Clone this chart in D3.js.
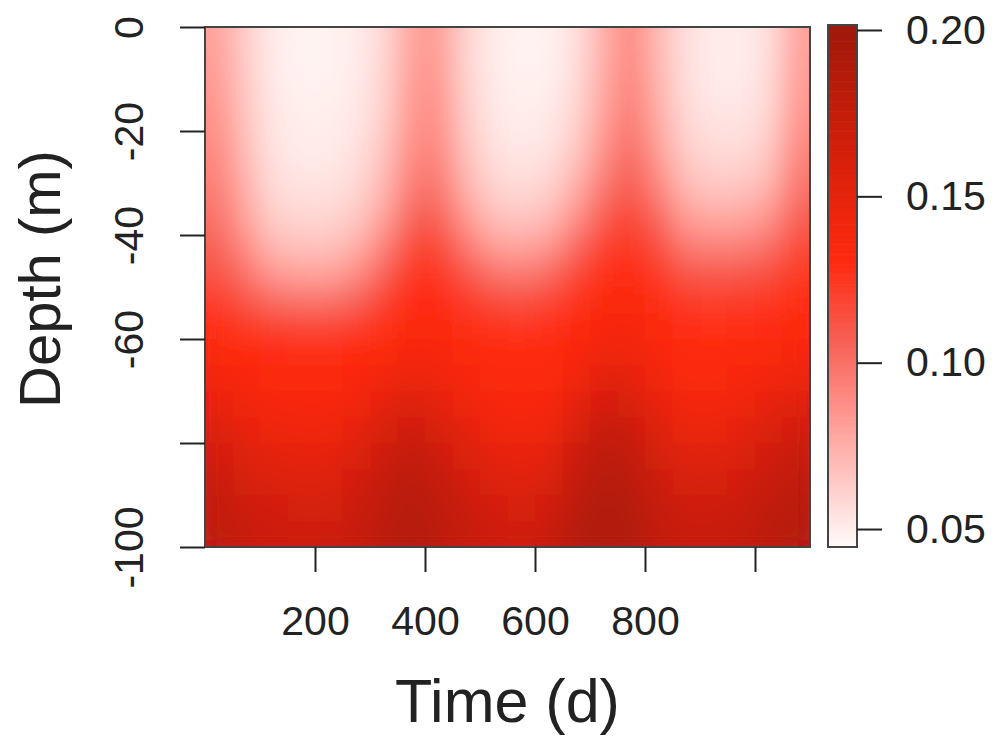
<!DOCTYPE html>
<html>
<head>
<meta charset="utf-8">
<script src="https://cdn.jsdelivr.net/npm/d3@7"></script>
<style>
  body { margin: 0; background: #fff; }
  svg { display: block; }
  text { font-family: "Liberation Sans", Arial, sans-serif; fill: #222; }
  .axis path { display: none; }
  .axis line { stroke: #222; stroke-width: 2; }
</style>
</head>
<body>
<svg id="chart" width="996" height="744"></svg>
<script>
const width = 996;
const height = 744;

// Time column centres (d) and depth row centres (m)
const times = [25, 75, 125, 175, 225, 275, 325, 375, 425, 475, 525,
               575, 625, 675, 725, 775, 825, 875, 925, 975, 1025, 1075];
const depths = [-2.5, -7.5, -12.5, -17.5, -22.5, -27.5, -32.5, -37.5, -42.5, -47.5,
                -52.5, -57.5, -62.5, -67.5, -72.5, -77.5, -82.5, -87.5, -92.5, -97.5];

// One vertical profile per time column (surface -> bottom)
const profiles = [
  [0.080,0.082,0.084,0.086,0.089,0.092,0.096,0.100,0.106,0.112,0.120,0.128,0.134,0.140,0.148,0.157,0.165,0.171,0.175,0.178],
  [0.062,0.063,0.064,0.066,0.068,0.071,0.075,0.080,0.088,0.098,0.110,0.122,0.130,0.135,0.141,0.148,0.155,0.162,0.167,0.171],
  [0.050,0.050,0.051,0.052,0.053,0.055,0.058,0.063,0.071,0.083,0.100,0.118,0.129,0.133,0.138,0.144,0.151,0.158,0.164,0.168],
  [0.047,0.047,0.048,0.049,0.050,0.052,0.055,0.060,0.068,0.080,0.097,0.116,0.128,0.132,0.136,0.142,0.149,0.156,0.162,0.167],
  [0.047,0.047,0.048,0.049,0.050,0.052,0.055,0.060,0.068,0.080,0.097,0.116,0.128,0.132,0.136,0.142,0.149,0.156,0.162,0.167],
  [0.050,0.050,0.051,0.052,0.054,0.056,0.060,0.066,0.075,0.088,0.104,0.120,0.130,0.135,0.141,0.149,0.157,0.164,0.169,0.172],
  [0.058,0.059,0.060,0.062,0.065,0.069,0.074,0.082,0.093,0.106,0.118,0.127,0.133,0.140,0.150,0.160,0.168,0.174,0.178,0.181],
  [0.080,0.081,0.083,0.085,0.088,0.092,0.098,0.106,0.116,0.124,0.129,0.133,0.138,0.146,0.158,0.168,0.176,0.181,0.184,0.186],
  [0.082,0.083,0.085,0.087,0.090,0.094,0.100,0.108,0.117,0.124,0.129,0.132,0.136,0.142,0.150,0.160,0.168,0.174,0.178,0.180],
  [0.060,0.060,0.061,0.063,0.066,0.070,0.076,0.085,0.097,0.110,0.121,0.128,0.132,0.136,0.142,0.150,0.157,0.164,0.169,0.172],
  [0.050,0.050,0.051,0.052,0.054,0.057,0.062,0.070,0.082,0.098,0.114,0.125,0.130,0.133,0.137,0.143,0.150,0.157,0.163,0.168],
  [0.047,0.047,0.048,0.049,0.051,0.054,0.059,0.067,0.079,0.095,0.112,0.124,0.130,0.132,0.135,0.140,0.147,0.154,0.161,0.166],
  [0.048,0.048,0.049,0.051,0.053,0.057,0.063,0.072,0.085,0.101,0.116,0.126,0.131,0.133,0.137,0.143,0.151,0.159,0.166,0.171],
  [0.055,0.056,0.058,0.060,0.064,0.070,0.078,0.089,0.103,0.116,0.125,0.131,0.135,0.141,0.150,0.160,0.169,0.176,0.181,0.184],
  [0.075,0.076,0.078,0.081,0.086,0.092,0.100,0.110,0.120,0.127,0.132,0.136,0.142,0.152,0.163,0.173,0.180,0.185,0.188,0.190],
  [0.090,0.091,0.093,0.096,0.100,0.105,0.111,0.118,0.124,0.129,0.133,0.137,0.142,0.150,0.160,0.169,0.176,0.181,0.184,0.186],
  [0.070,0.071,0.073,0.076,0.080,0.086,0.094,0.104,0.114,0.122,0.128,0.132,0.135,0.140,0.147,0.155,0.162,0.168,0.173,0.176],
  [0.055,0.055,0.056,0.058,0.061,0.066,0.073,0.083,0.096,0.110,0.121,0.128,0.131,0.134,0.139,0.146,0.154,0.161,0.167,0.171],
  [0.050,0.050,0.051,0.053,0.056,0.061,0.068,0.079,0.093,0.108,0.120,0.127,0.131,0.134,0.139,0.146,0.154,0.161,0.167,0.171],
  [0.050,0.050,0.051,0.053,0.056,0.061,0.069,0.080,0.094,0.109,0.121,0.128,0.132,0.136,0.142,0.150,0.158,0.165,0.170,0.174],
  [0.055,0.056,0.057,0.059,0.063,0.068,0.076,0.087,0.100,0.113,0.123,0.129,0.134,0.140,0.149,0.158,0.166,0.172,0.177,0.180],
  [0.080,0.081,0.083,0.086,0.090,0.095,0.101,0.108,0.116,0.123,0.128,0.132,0.137,0.145,0.155,0.164,0.172,0.178,0.182,0.184]
];

const xTicks = [200, 400, 600, 800, 1000];
const xTickLabels = ["200", "400", "600", "800", ""];
const yTicks = [0, -20, -40, -60, -80, -100];
const yTickLabels = ["0", "-20", "-40", "-60", "", "-100"];
const legendTicks = [0.05, 0.10, 0.15, 0.20];

const cellW = 50, cellH = 5;

const svg = d3.select('#chart');

const x = d3.scaleLinear().domain([0, 1100]).range([205, 810]);
const y = d3.scaleLinear().domain([0, -100]).range([27, 547]);

const color = d3.scaleLinear()
    .domain([0.045, 0.065, 0.085, 0.105, 0.13, 0.16, 0.20])
    .range(["#fff8f7", "#ffc6c2", "#ff948c", "#f76258", "#ff2a10", "#d8200a", "#a0180a"])
    .clamp(true);

// smoothing filter, same idea as an interpolated raster image
const defs = svg.append('defs');
const filt = defs.append('filter')
    .attr('id', 'smooth')
    .attr('x', 0).attr('y', 0).attr('width', 1).attr('height', 1);
filt.append('feGaussianBlur').attr('stdDeviation', '13 11').attr('result', 'b');
filt.append('feComponentTransfer').attr('in', 'b')
    .append('feFuncA').attr('type', 'table').attr('tableValues', '1 1');

// flatten cells
const cells = [];
times.forEach((t, i) => {
    depths.forEach((d, j) => {
        cells.push({ t, d, v: profiles[i][j] });
    });
});

svg.append('g')
    .attr('filter', 'url(#smooth)')
    .selectAll('rect')
    .data(cells)
    .join('rect')
    .attr('x', c => x(c.t - cellW / 2))
    .attr('y', c => y(c.d + cellH / 2))
    .attr('width', x(cellW) - x(0) + 0.5)
    .attr('height', y(-cellH) - y(0) + 0.5)
    .attr('fill', c => color(c.v));

// plot box
svg.append('rect')
    .attr('x', x(0)).attr('y', y(0))
    .attr('width', x(1100) - x(0)).attr('height', y(-100) - y(0))
    .attr('fill', 'none').attr('stroke', '#444').attr('stroke-width', 2);

// x axis
const xAxis = svg.append('g')
    .attr('class', 'axis')
    .attr('transform', `translate(0,${y(-100)})`)
    .call(d3.axisBottom(x).tickValues(xTicks)
        .tickFormat((d, i) => xTickLabels[i])
        .tickSize(25).tickPadding(34));
xAxis.selectAll('text').style('font-size', '41px');

// y axis, labels rotated like R's default
const yAxis = svg.append('g')
    .attr('class', 'axis')
    .attr('transform', `translate(${x(0)},0)`)
    .call(d3.axisLeft(y).tickValues(yTicks)
        .tickFormat((d, i) => yTickLabels[i])
        .tickSize(25));
yAxis.selectAll('text')
    .style('font-size', '41px')
    .attr('text-anchor', 'middle')
    .attr('x', 0).attr('y', -62).attr('dy', 0)
    .attr('transform', 'rotate(-90)');

// axis titles
svg.append('text')
    .attr('x', (x(0) + x(1100)) / 2).attr('y', 722)
    .attr('text-anchor', 'middle')
    .style('font-size', '61px')
    .text('Time (d)');

svg.append('text')
    .attr('transform', `translate(60,${(y(0) + y(-100)) / 2 - 8}) rotate(-90)`)
    .attr('text-anchor', 'middle')
    .style('font-size', '58px')
    .text('Depth (m)');

// colour bar
const legendY = d3.scaleLinear().domain([0.0446, 0.2015]).range([547, 25]);
const legendX = 828, legendW = 29;
const steps = d3.range(0.0446, 0.2015, 0.001);

svg.append('g')
    .selectAll('rect')
    .data(steps)
    .join('rect')
    .attr('x', legendX)
    .attr('y', d => legendY(d + 0.001))
    .attr('width', legendW)
    .attr('height', d => legendY(d) - legendY(d + 0.001) + 0.6)
    .attr('fill', d => color(d));

svg.append('rect')
    .attr('x', legendX).attr('y', legendY(0.2015))
    .attr('width', legendW).attr('height', legendY(0.0446) - legendY(0.2015))
    .attr('fill', 'none').attr('stroke', '#444').attr('stroke-width', 2);

const lAxis = svg.append('g')
    .attr('class', 'axis')
    .attr('transform', `translate(${legendX + legendW},0)`)
    .call(d3.axisRight(legendY).tickValues(legendTicks)
        .tickFormat(d3.format('.2f'))
        .tickSize(25).tickPadding(24));
lAxis.selectAll('text').style('font-size', '41px');
</script>
</body>
</html>
